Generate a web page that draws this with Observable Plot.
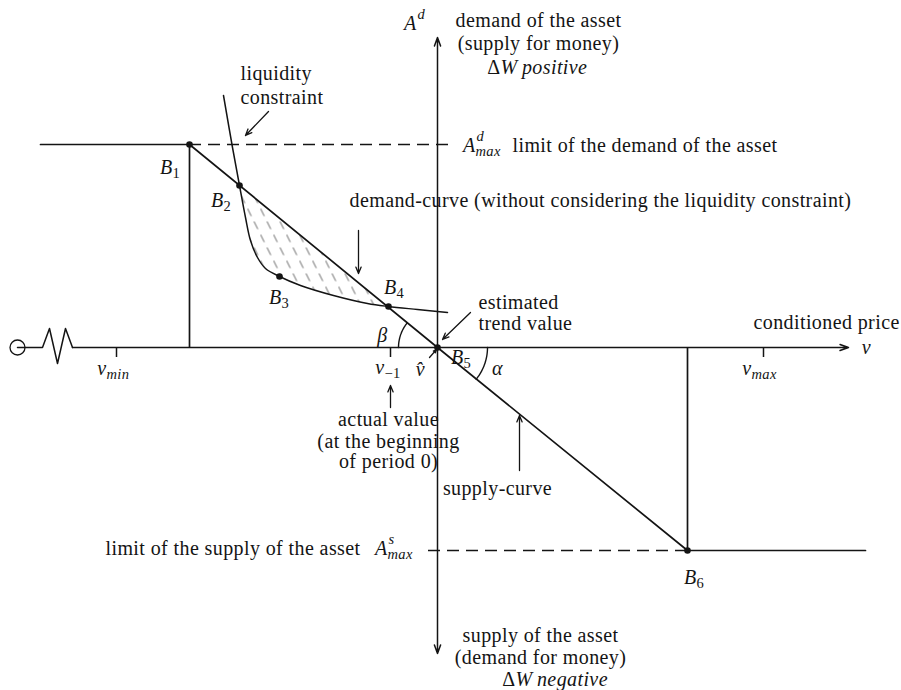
<!DOCTYPE html>
<html><head><meta charset="utf-8">
<script src="https://cdn.jsdelivr.net/npm/d3@7"></script>
<script src="https://cdn.jsdelivr.net/npm/@observablehq/plot@0.6"></script>
<style>body{margin:0;background:#fff} svg{display:block} svg text{letter-spacing:.4px}</style>
</head><body><div id="chart"></div>
<script>
// Diagram coordinates: x = conditioned price v (origin at the trend value v̂ = B5),
// y = asset demand (+) / supply (−). Units.
const keyPoints = [
  {name: "1", x: -248, y: 203},
  {name: "2", x: -198, y: 162},
  {name: "3", x: -158, y: 71},
  {name: "4", x: -49, y: 41},
  {name: "5", x: 0, y: 0},
  {name: "6", x: 250, y: -203}
];
const demandSupplyLine = [{x: -248, y: 203}, {x: 0, y: 0}, {x: 250, y: -203}];
const demandCap = [{x: -397, y: 203}, {x: -248, y: 203}];
const supplyCap = [{x: 250, y: -203}, {x: 428, y: -203}];
const capDrops = [{x: -248, y1: 203, y2: 0}, {x: 250, y1: -203, y2: 0}];
const limitLines = [{x1: -248, x2: 13, y: 203}, {x1: -9, x2: 250, y: -203}];
const liquidityCurve = [
  {x: -214, y: 252}, {x: -205, y: 200}, {x: -198, y: 162}, {x: -192, y: 130},
  {x: -187, y: 107}, {x: -180, y: 90}, {x: -172, y: 79}, {x: -158, y: 71},
  {x: -137, y: 62}, {x: -104, y: 52}, {x: -70, y: 44}, {x: -49, y: 41},
  {x: -20, y: 38}, {x: 10, y: 35}
];
const hatchRegion = liquidityCurve.slice(2, 12); // B2 … B3 … B4, closed by the demand line
const axisBreak = [{x: -420, y: 0}, {x: -395, y: 0}, {x: -388, y: 19}, {x: -380, y: -16}, {x: -372, y: 19}, {x: -365, y: 0}];
const axisOrigin = [{x: -420, y: 0}];
const axes = [
  {x1: -365, y1: 0, x2: 411, y2: 0},
  {x1: 0, y1: 0, x2: 0, y2: 310},
  {x1: 0, y1: 0, x2: 0, y2: -306}
];
const ticks = [{sub: "min", x: -321}, {sub: "−1", x: -47}, {sub: "max", x: 326}];
const angleArcs = [{label: "β", r: 39, from: 180, to: 180 - 39.3}, {label: "α", r: 50, from: 0, to: -39.3}];
const pointers = [
  {x1: -169, y1: 236, x2: -192, y2: 212},
  {x1: -79, y1: 117, x2: -79, y2: 74},
  {x1: 33, y1: 35, x2: 5, y2: 8},
  {x1: -47, y1: -60, x2: -47, y2: -38},
  {x1: 82, y1: -123, x2: 82, y2: -68},
  {x1: -8, y1: -10, x2: -1, y2: -2}
];
// text
const plainStart = [
  {text: "liquidity", x: -197, y: 274},
  {text: "constraint", x: -197, y: 250},
  {text: "limit of the demand of the asset", x: 75, y: 202},
  {text: "demand-curve (without considering the liquidity constraint)", x: -88, y: 147},
  {text: "estimated", x: 41, y: 45},
  {text: "trend value", x: 41, y: 24},
  {text: "conditioned price", x: 316, y: 25},
  {text: "limit of the supply of the asset", x: -332, y: -201}
];
const plainMiddle = [
  {text: "demand of the asset", x: 101, y: 327},
  {text: "(supply for money)", x: 101, y: 304},
  {text: "supply of the asset", x: 103, y: -288},
  {text: "(demand for money)", x: 103, y: -310},
  {text: "actual value", x: -49, y: -72},
  {text: "(at the beginning", x: -49, y: -94},
  {text: "of period 0)", x: -49, y: -114},
  {text: "supply-curve", x: 60, y: -141}
];
const deltaW = [{word: "positive", x: 63, y: 280}, {word: "negative", x: 78, y: -332}];
const symbols = [
  {text: "v", x: 429, y: 0},
  {text: "v\u0302", x: -17, y: -22},
  {text: "β", x: -55, y: 12},
  {text: "α", x: 60, y: -21}
];
// base + sub/superscript labels (x = junction between base and script)
const scripted = [
  {base: "B", sub: "1", x: -265, y: 180},
  {base: "B", sub: "2", x: -214, y: 147},
  {base: "B", sub: "3", x: -156, y: 50},
  {base: "B", sub: "4", x: -41, y: 60},
  {base: "B", sub: "5", x: 26, y: -10},
  {base: "B", sub: "6", x: 259, y: -230},
  {base: "v", sub: "min", x: -331, y: -21},
  {base: "v", sub: "−1", x: -53, y: -20},
  {base: "v", sub: "max", x: 314, y: -21},
  {base: "A", sup: "d", x: -21, y: 324},
  {base: "A", sup: "d", sub: "max", x: 38, y: 202},
  {base: "A", sup: "s", sub: "max", x: -50, y: -201}
];

const F = "'Liberation Serif', 'Times New Roman', serif";
const ink = "#141414";
const FS = 20, SS = 14.5;
const isWord = s => /^[a-z]+$/.test(s);

const arcPts = angleArcs.flatMap(a => d3.range(0, 21).map(i => {
  const t = (a.from + (a.to - a.from) * i / 20) * Math.PI / 180;
  return {label: a.label, x: a.r * Math.cos(t), y: a.r * Math.sin(t)};
}));

const txt = (data, o) => Plot.text(data, {fontFamily: F, fontSize: FS, fill: ink, lineAnchor: "middle", ...o});
const subs = scripted.filter(d => d.sub);
const sups = scripted.filter(d => d.sup);

const svg = Plot.plot({
  width: 901, height: 690, margin: 0,
  x: {domain: [-437, 464], axis: null},
  y: {domain: [-343, 347], axis: null},
  style: {background: "#fff", color: ink},
  marks: [
    Plot.line(hatchRegion, {x: "x", y: "y", fill: "url(#hatch)", stroke: "none"}),
    Plot.line(axisBreak, {x: "x", y: "y", stroke: ink, strokeWidth: 1.5}),
    Plot.dot(axisOrigin, {x: "x", y: "y", r: 7.5, stroke: ink, fill: "none", strokeWidth: 1.3}),
    Plot.arrow(axes, {x1: "x1", y1: "y1", x2: "x2", y2: "y2", stroke: ink, strokeWidth: 1.5, headLength: 9, headAngle: 40}),
    Plot.ruleY(limitLines, {y: "y", x1: "x1", x2: "x2", stroke: ink, strokeWidth: 1.5, strokeDasharray: "12,7"}),
    Plot.line(demandSupplyLine, {x: "x", y: "y", stroke: ink, strokeWidth: 1.7}),
    Plot.line(demandCap, {x: "x", y: "y", stroke: ink, strokeWidth: 1.7}),
    Plot.line(supplyCap, {x: "x", y: "y", stroke: ink, strokeWidth: 1.7}),
    Plot.ruleX(capDrops, {x: "x", y1: "y1", y2: "y2", stroke: ink, strokeWidth: 1.7}),
    Plot.line(liquidityCurve, {x: "x", y: "y", curve: "catmull-rom", stroke: ink, strokeWidth: 1.5}),
    Plot.ruleX(ticks, {x: "x", y1: 0, y2: -10, stroke: ink, strokeWidth: 1.5}),
    Plot.line(arcPts, {x: "x", y: "y", z: "label", stroke: ink, strokeWidth: 1.4, curve: "catmull-rom"}),
    Plot.dot(keyPoints, {x: "x", y: "y", r: 3.3, fill: ink}),
    Plot.arrow(pointers, {x1: "x1", y1: "y1", x2: "x2", y2: "y2", stroke: ink, strokeWidth: 1.3, headLength: 8, headAngle: 45}),
    txt(plainStart, {x: "x", y: "y", text: "text", textAnchor: "start"}),
    txt(plainMiddle, {x: "x", y: "y", text: "text", textAnchor: "middle"}),
    txt(deltaW, {x: "x", y: "y", text: () => "Δ", textAnchor: "end"}),
    txt(deltaW, {x: "x", y: "y", text: d => "W" + "\u2009" + d.word, textAnchor: "start", fontStyle: "italic"}),
    txt(symbols, {x: "x", y: "y", text: "text", textAnchor: "middle", fontStyle: "italic"}),
    txt(scripted, {x: "x", y: "y", text: "base", textAnchor: "end", fontStyle: "italic"}),
    txt(subs.filter(d => isWord(d.sub)), {x: "x", y: "y", text: "sub", textAnchor: "start", fontStyle: "italic", fontSize: SS, dy: 6}),
    txt(subs.filter(d => !isWord(d.sub)), {x: "x", y: "y", text: "sub", textAnchor: "start", fontSize: SS, dy: 6}),
    txt(sups, {x: "x", y: "y", text: "sup", textAnchor: "start", fontStyle: "italic", fontSize: SS, dy: -9, dx: 1})
  ]
});

const defs = d3.select(svg).insert("defs", ":first-child");
const pat = defs.append("pattern").attr("id", "hatch").attr("patternUnits", "userSpaceOnUse")
  .attr("width", 13).attr("height", 26);
pat.append("line").attr("x1", 0).attr("y1", 0).attr("x2", 13).attr("y2", 26)
  .attr("stroke", "#666").attr("stroke-width", 1).attr("stroke-dasharray", "8.5,6.04");
document.getElementById("chart").appendChild(svg);
</script></body></html>
